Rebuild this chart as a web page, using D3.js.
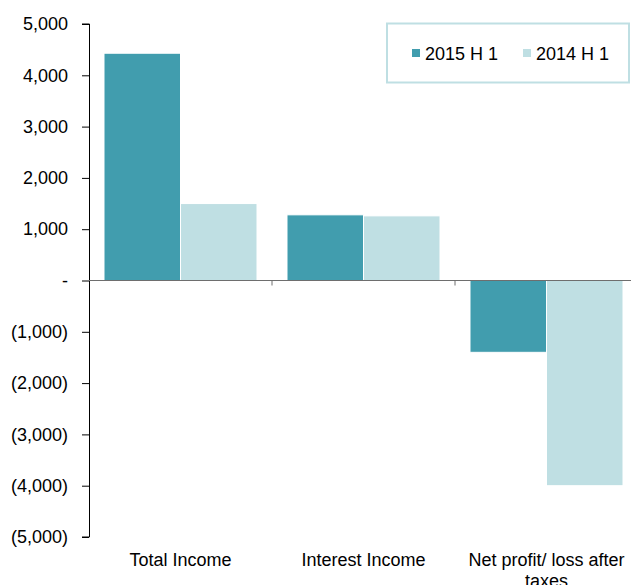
<!DOCTYPE html>
<html>
<head>
<meta charset="utf-8">
<script src="https://cdn.jsdelivr.net/npm/d3@7"></script>
<style>
  body { margin: 0; background: #fff; }
  text { font-family: "Liberation Sans", Arial, sans-serif; fill: #000; }
</style>
</head>
<body>
<script>
// chart data
var categories = ["Total Income", "Interest Income", "Net profit/ loss after taxes"];
var seriesNames = ["2015 H 1", "2014 H 1"];
var values2015 = [4430, 1280, -1400];
var values2014 = [1500, 1260, -4000];
var yTicks = [5000, 4000, 3000, 2000, 1000, 0, -1000, -2000, -3000, -4000, -5000];
var colors = ["#419dae", "#bfdfe3"];

var width = 631, height = 585;
var svg = d3.select("body").append("svg")
  .attr("width", width)
  .attr("height", height);

// plot edges (not "top": that name is taken by window.top)
var pLeft = 89, pRight = 638, pTop = 24, pBottom = 537;

var y = d3.scaleLinear().domain([-5000, 5000]).range([pBottom, pTop]);
var x0 = d3.scaleBand().domain(categories).range([pLeft, pRight]).padding(0);
var x1 = d3.scaleBand().domain(seriesNames).range([15, x0.bandwidth() - 15]).padding(0);

var rows = categories.map(function (c, i) {
  return { cat: c, vals: [values2015[i], values2014[i]] };
});

function fmt(v) {
  if (v === 0) return "-";
  var s = d3.format(",")(Math.abs(v));
  return v < 0 ? "(" + s + ")" : s;
}

// bars
var groups = svg.append("g").selectAll("g").data(rows).enter().append("g")
  .attr("transform", function (d) { return "translate(" + x0(d.cat) + ",0)"; });

groups.selectAll("rect")
  .data(function (d) {
    return d.vals.map(function (v, i) { return { name: seriesNames[i], v: v, i: i }; });
  })
  .enter().append("rect")
  .attr("x", function (d) { return x1(d.name); })
  .attr("y", function (d) { return y(Math.max(0, d.v)); })
  .attr("width", x1.bandwidth())
  .attr("height", function (d) { return Math.abs(y(d.v) - y(0)); })
  .attr("fill", function (d) { return colors[d.i]; })
  .attr("stroke", "#fff")
  .attr("stroke-width", 1);

// y axis
var yAxis = d3.axisLeft(y).tickValues(yTicks).tickFormat(fmt).tickSize(7).tickPadding(14);
var gy = svg.append("g").attr("transform", "translate(" + pLeft + ",0)").call(yAxis);
gy.select(".domain").attr("stroke", "#000").attr("d", "M-7," + pTop + "H0.5V" + pBottom + "H-7");
gy.selectAll(".tick line").attr("stroke", "#000");
gy.selectAll(".tick text").attr("font-size", "18px").attr("fill", "#000")
  .style("font-family", "'Liberation Sans', Arial, sans-serif");

// zero line with category ticks
var gx = svg.append("g");
gx.append("line")
  .attr("x1", pLeft).attr("x2", width)
  .attr("y1", y(0)).attr("y2", y(0))
  .attr("stroke", "#6e6e6e").attr("stroke-width", 1.2);
gx.selectAll("line.ct").data(categories.slice(1)).enter().append("line")
  .attr("class", "ct")
  .attr("x1", function (d) { return x0(d); })
  .attr("x2", function (d) { return x0(d); })
  .attr("y1", y(0)).attr("y2", y(0) + 5)
  .attr("stroke", "#6e6e6e");

// category labels
var labelLines = [["Total Income"], ["Interest Income"], ["Net profit/ loss after", "taxes"]];
var lab = svg.append("g").selectAll("text").data(categories).enter().append("text")
  .attr("x", function (d) { return x0(d) + x0.bandwidth() / 2; })
  .attr("y", 566)
  .attr("text-anchor", "middle")
  .attr("font-size", "18px");
lab.each(function (d, i) {
  var t = d3.select(this);
  labelLines[i].forEach(function (s, j) {
    t.append("tspan").attr("x", x0(d) + x0.bandwidth() / 2).attr("dy", j === 0 ? 0 : 21).text(s);
  });
});

// legend
var lg = svg.append("g");
lg.append("rect")
  .attr("x", 387).attr("y", 23.5).attr("width", 242).attr("height", 59)
  .attr("fill", "#fff").attr("stroke", "#bfdfe3").attr("stroke-width", 2);
var legX = [412, 523];
seriesNames.forEach(function (n, i) {
  lg.append("rect").attr("x", legX[i]).attr("y", 49).attr("width", 8).attr("height", 8)
    .attr("fill", colors[i]);
  lg.append("text").attr("x", legX[i] + 13).attr("y", 60).attr("font-size", "18px").text(n);
});
</script>
</body>
</html>
